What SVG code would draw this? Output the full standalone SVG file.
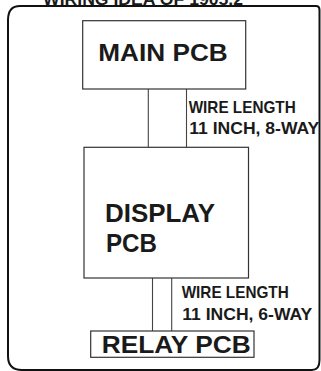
<svg xmlns="http://www.w3.org/2000/svg" width="321" height="371" viewBox="0 0 321 371">
<style>
.box{fill:#fff;stroke:#333;stroke-width:1.2}
.wire{stroke:#444;stroke-width:1.1;fill:none}
.big{font-family:"Liberation Sans",Arial,sans-serif;font-weight:bold;fill:#1a1a1a}
.lbl{font-family:"Liberation Sans",Arial,sans-serif;font-weight:bold;fill:#1a1a1a;font-size:16.2px}
</style>
<rect width="321" height="371" fill="#fff"/>
<text class="big" x="43" y="4.5" font-size="16" textLength="200" lengthAdjust="spacingAndGlyphs">WIRING IDEA OF 1905.2</text>
<path d="M20,6 H316 Q319.5,6 319.5,10 V360 Q319.5,370 312,370 H22 Q8,370 8,356 V20 Q8,6 20,6 Z" fill="none" stroke="#111" stroke-width="2"/>
<g id="connectors">
<line class="wire" x1="148.3" y1="89" x2="148.3" y2="147.5"/>
<line class="wire" x1="186.5" y1="89" x2="186.5" y2="147.5"/>
<line class="wire" x1="152.5" y1="278" x2="152.5" y2="331"/>
<line class="wire" x1="171.7" y1="278" x2="171.7" y2="331"/>
<text class="lbl" x="188.7" y="113.3" textLength="107" lengthAdjust="spacingAndGlyphs">WIRE LENGTH</text>
<text class="lbl" x="189.3" y="134.3" textLength="130" lengthAdjust="spacingAndGlyphs">11 INCH, 8-WAY</text>
<text class="lbl" x="181.7" y="298.3" textLength="107" lengthAdjust="spacingAndGlyphs">WIRE LENGTH</text>
<text class="lbl" x="182.3" y="320" textLength="130" lengthAdjust="spacingAndGlyphs">11 INCH, 6-WAY</text>
</g>
<g id="main-pcb">
<rect class="box" x="82.7" y="20.7" width="163" height="68.3"/>
<text class="big" x="98.3" y="60.7" font-size="24.3" textLength="129.4" lengthAdjust="spacingAndGlyphs">MAIN PCB</text>
</g>
<g id="display-pcb">
<rect class="box" x="84" y="147.3" width="164.5" height="130.7"/>
<text class="big" x="105" y="222.3" font-size="26.5" textLength="110" lengthAdjust="spacingAndGlyphs">DISPLAY</text>
<text class="big" x="106" y="252" font-size="26.5" textLength="51" lengthAdjust="spacingAndGlyphs">PCB</text>
</g>
<g id="relay-pcb">
<rect class="box" x="90.7" y="331" width="163.3" height="26.3"/>
<text class="big" x="101.7" y="353.3" font-size="24.6" textLength="149" lengthAdjust="spacingAndGlyphs">RELAY PCB</text>
</g>
</svg>
